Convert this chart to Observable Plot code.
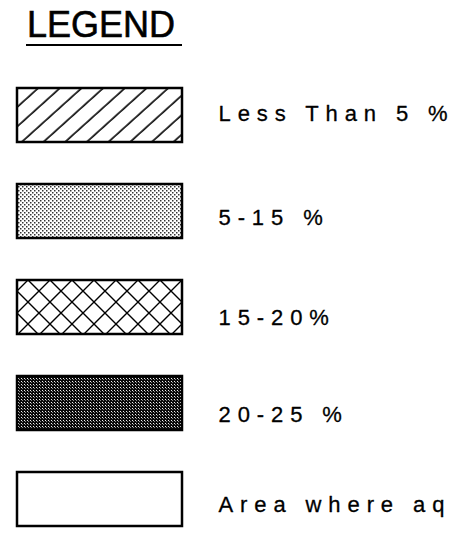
<!DOCTYPE html>
<html>
<head>
<meta charset="utf-8">
<script src="https://cdn.jsdelivr.net/npm/d3@7"></script>
<script src="https://cdn.jsdelivr.net/npm/@observablehq/plot@0.6"></script>
<style>
  html, body { margin: 0; padding: 0; background: #fff; }
  body { width: 458px; height: 540px; overflow: hidden; font-family: "Liberation Sans", Arial, sans-serif; }
  #title { height: 60px; position: relative; }
  #title span {
    position: absolute; left: 26px; top: 6px;
    font-size: 36px; line-height: 38px; color: #000;
    -webkit-text-stroke: 0.6px #000;
    border-bottom: 2px solid #000; padding-right: 7px; padding-left: 1px;
  }
</style>
</head>
<body>
<div id="title"><span>LEGEND</span></div>
<div id="chart"></div>
<script>
// Data
const title = "LEGEND";
const categories = ["Less Than 5 %", "5-15 %", "15-20 %", "20-25 %", "Area where aq"];
const labels = ["Less Than 5 %", "5-15 %", "15-20%", "20-25 %", "Area where aq"];
const patterns = ["hatch", "dots", "cross", "dark", "blank"];

// Layout (per-label vertical nudges, as in the original typesetting)
const labelDy = [-2, 6, 10.5, 11.5, 5.5];

const rows = categories.map((c, i) => ({category: c, label: labels[i], pattern: patterns[i]}));

const plot = Plot.plot({
  width: 458,
  height: 480,
  margin: 0,
  x: {type: "band", domain: ["swatch"], range: [17, 182], padding: 0, axis: null},
  y: {type: "band", domain: categories, range: [26, 468], paddingInner: 0.44, paddingOuter: 0, axis: null},
  color: {type: "identity"},
  marks: [
    Plot.cell(rows, {
      x: () => "swatch",
      y: "category",
      fill: d => d.pattern === "blank" ? "white" : `url(#pat-${d.pattern})`,
      stroke: "black",
      strokeWidth: 2.5,
      inset: 0
    }),
    ...rows.map((r, i) => Plot.text([r], {
      x: () => "swatch",
      y: "category",
      text: "label",
      textAnchor: "start",
      dx: 118.5,
      dy: labelDy[i],
      fontSize: 22,
      fill: "black",
      stroke: "black",
      strokeWidth: 0.3,
      fontFamily: "Liberation Sans, Arial, sans-serif"
    }))
  ]
});

plot.style.fontFamily = "Liberation Sans, Arial, sans-serif";
plot.style.overflow = "visible";
plot.querySelectorAll("text").forEach(t => t.setAttribute("letter-spacing", "6.9"));

plot.insertAdjacentHTML("afterbegin", `
<defs>
  <pattern id="pat-hatch" patternUnits="userSpaceOnUse" width="14.5" height="10" patternTransform="rotate(48)">
    <rect width="14.5" height="10" fill="white"/>
    <line x1="3" y1="-1" x2="3" y2="11" stroke="black" stroke-width="1.6"/>
  </pattern>
  <pattern id="pat-dots" patternUnits="userSpaceOnUse" width="4" height="4">
    <rect width="4" height="4" fill="white"/>
    <rect x="0" y="0" width="1.5" height="1.5" fill="#333"/>
    <rect x="2" y="2" width="1.5" height="1.5" fill="#333"/>
  </pattern>
  <pattern id="pat-cross" patternUnits="userSpaceOnUse" width="22" height="22" x="6" y="0">
    <rect width="22" height="22" fill="white"/>
    <path d="M-1,-1L23,23M23,-1L-1,23" stroke="black" stroke-width="1.4"/>
  </pattern>
  <pattern id="pat-dark" patternUnits="userSpaceOnUse" width="3" height="3">
    <rect width="3" height="3" fill="#0a0a0a"/>
    <rect x="0" y="0" width="1" height="1" fill="#f0f0f0"/>
    <rect x="1" y="1" width="1" height="1" fill="#8a8a8a"/>
  </pattern>
</defs>`);

document.getElementById("chart").appendChild(plot);
</script>
</body>
</html>
